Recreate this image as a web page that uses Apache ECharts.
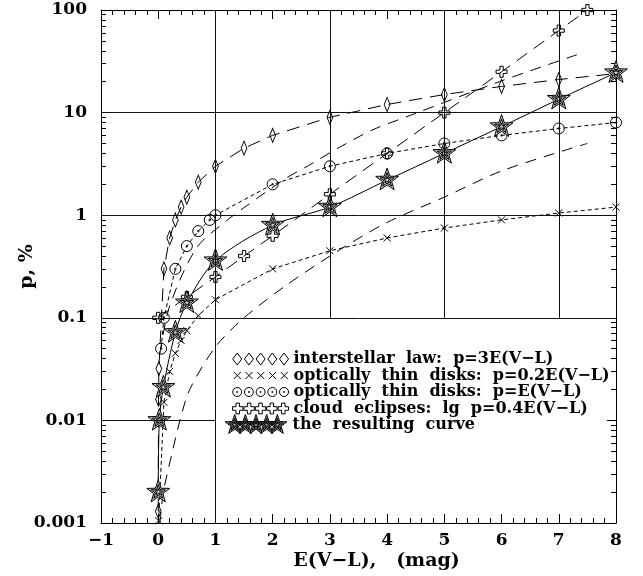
<!DOCTYPE html>
<html><head><meta charset="utf-8">
<script src="https://cdn.jsdelivr.net/npm/echarts@6/dist/echarts.min.js"></script>
<style>html,body{margin:0;padding:0;background:#fff}#c{width:643px;height:576px}</style>
</head><body><div id="c"></div>
<script>
// ---- data ----
const xTicks = [-1, 0, 1, 2, 3, 4, 5, 6, 7, 8];
const yTicks = [0.001, 0.01, 0.1, 1, 10, 100];

const interstellarE = [0.0004, 0.005, 0.011, 0.1, 0.2, 0.3, 0.4, 0.5, 0.7, 1, 1.5, 2, 3, 4, 5, 6, 7, 8];
const interstellarP = [0.0013, 0.016, 0.032, 0.3, 0.6, 0.9, 1.2, 1.5, 2.1, 3, 4.5, 6, 9, 12, 15, 18, 21, 24];

const thinLowE = [0.007, 0.1, 0.2, 0.3, 0.4, 0.5, 0.7, 1, 2, 3, 4, 5, 6, 7, 8];
const thinLowP = [0.00105, 0.015, 0.03, 0.045, 0.06, 0.075, 0.105, 0.15, 0.3, 0.45, 0.6, 0.75, 0.9, 1.05, 1.2];

const thinE = [0.05, 0.1, 0.3, 0.5, 0.7, 0.9, 1, 2, 3, 4, 5, 6, 7, 8];
const thinP = [0.05, 0.1, 0.3, 0.5, 0.7, 0.9, 1, 2, 3, 4, 5, 6, 7, 8];

const cloudE = [0, 0.5, 1, 1.5, 2, 3, 4, 5, 6, 7, 7.5];
const cloudP = [0.1, 0.16, 0.25, 0.4, 0.63, 1.6, 4, 10, 25, 63, 100];

const resultE = [0, 0.02, 0.09, 0.3, 0.5, 1, 2, 3, 4, 5, 6, 7, 8];
const resultP = [0.002, 0.01, 0.021, 0.072, 0.14, 0.36, 0.8, 1.2, 2.2, 4, 7.3, 13.5, 24.5];

const upperE = [0.03, 0.2, 0.67, 1.19, 1.54, 2.24, 2.65, 3.17, 3.75, 4.45, 5.96, 7.4];
const upperP = [0.045, 0.13, 0.48, 0.88, 1.23, 2.3, 3.1, 4.6, 6.8, 9.6, 20, 38];

const lowerE = [0.03, 0.09, 0.23, 0.38, 0.55, 1, 1.5, 2.25, 3.2, 4, 5, 6, 7.5];
const lowerP = [0.001, 0.002, 0.0045, 0.01, 0.02, 0.052, 0.1, 0.21, 0.47, 0.85, 1.5, 2.7, 5];

const legendNames = [
  'interstellar  law:  p=3E(V\u2212L)',
  'optically  thin  disks:  p=0.2E(V\u2212L)',
  'optically  thin  disks:  p=E(V\u2212L)',
  'cloud  eclipses:  lg  p=0.4E(V\u2212L)',
  'the  resulting  curve'
];

// grid lines (partial, as in the original)
const vGridX = [1, 3, 5, 7];
const vGridLow = [0.001, 0.1, 0.1, 0.1];
const hGridY = [0.01, 0.1, 1, 10];
const hGridRight = [1, 8, 8, 8];

// ---- helpers ----
const zip = (a, b) => a.map((v, i) => [v, b[i]]);
const f = (n) => n.toFixed(2);
function starPoly(cx, cy, R) {
  let s = '';
  for (let k = 0; k < 10; k++) {
    const r = k % 2 === 0 ? R : R * 0.4;
    const a = -Math.PI / 2 + k * Math.PI / 5;
    s += (k === 0 ? 'M' : 'L') + f(cx + r * Math.cos(a)) + ' ' + f(cy + r * Math.sin(a)) + ' ';
  }
  return s + 'Z ';
}
function starShape(cx, cy, R) {
  return starPoly(cx, cy, R) + starPoly(cx, cy, R * 0.62) + starPoly(cx, cy, R * 0.3);
}
const symStar = 'path://M0 0 M24 24 ' + starShape(12, 12, 12);
const symDiamond = 'path://M4.5 0L9 7L4.5 14L0 7Z';
const symCross = 'path://M0 0L10 10M10 0L0 10';
const symCircle = 'path://M0 5A5 5 0 1 1 10 5A5 5 0 1 1 0 5ZM4.3 5A0.7 0.7 0 1 1 5.7 5A0.7 0.7 0 1 1 4.3 5Z';
const symPlus = 'path://M3.5 0L6.5 0L6.5 3.5L10 3.5L10 6.5L6.5 6.5L6.5 10L3.5 10L3.5 6.5L0 6.5L0 3.5L3.5 3.5Z';

const LW = 56, LH = 12, STEP = 11.75;
function rowIcon(fn) {
  let s = 'path://M0 0 M' + LW + ' ' + LH + ' ';
  for (let i = 0; i < 5; i++) s += fn(4.75 + STEP * i, LH / 2);
  return s;
}
const iconDiamond = rowIcon((cx, cy) => `M${f(cx)} 0L${f(cx + 4.5)} ${cy}L${f(cx)} ${LH}L${f(cx - 4.5)} ${cy}Z `);
const iconCross = rowIcon((cx, cy) => `M${f(cx - 3.5)} ${cy - 3.5}L${f(cx + 3.5)} ${cy + 3.5}M${f(cx + 3.5)} ${cy - 3.5}L${f(cx - 3.5)} ${cy + 3.5} `);
const iconCircle = rowIcon((cx, cy) => `M${f(cx - 4.5)} ${cy}A4.5 4.5 0 1 1 ${f(cx + 4.5)} ${cy}A4.5 4.5 0 1 1 ${f(cx - 4.5)} ${cy}Z M${f(cx - 0.6)} ${cy}A0.6 0.6 0 1 1 ${f(cx + 0.6)} ${cy}A0.6 0.6 0 1 1 ${f(cx - 0.6)} ${cy}Z `);
const iconPlus = rowIcon((cx, cy) => {
  const a = 1.8, b = 5.4;
  const pts = [[-a, -b], [a, -b], [a, -a], [b, -a], [b, a], [a, a], [a, b], [-a, b], [-a, a], [-b, a], [-b, -a], [-a, -a]];
  return pts.map((p, i) => (i ? 'L' : 'M') + f(cx + p[0]) + ' ' + f(cy + p[1])).join('') + 'Z ';
});
let iconStars = 'path://M0 0 M68 22 ';
for (let i = 0; i < 5; i++) iconStars += starShape(11 + 11.5 * i, 11, 11);

const FONT = 'DejaVu Serif';
const lbl = { fontFamily: FONT, fontWeight: 'bold', fontSize: 17, color: '#000' };
const black = { color: '#000', width: 1 };
const hollow = { color: 'rgba(0,0,0,0)', borderColor: '#000', borderWidth: 1 };

const minorY = [];
for (let d = 0; d < yTicks.length - 1; d++) for (let k = 2; k <= 9; k++) minorY.push(+(yTicks[d] * k).toPrecision(3));

function xAxisDef(pos) {
  return {
    type: 'value', position: pos, min: -1, max: 8, interval: 1,
    axisLine: { show: true, onZero: false, lineStyle: black },
    axisTick: { show: true, inside: true, length: 9, lineStyle: black },
    minorTick: { show: true, splitNumber: 5, length: 5, lineStyle: black },
    splitLine: { show: false }, minorSplitLine: { show: false },
    axisLabel: pos === 'bottom' ? Object.assign({ margin: 9, formatter: v => v < 0 ? '\u2212' + (-v) : String(v) }, lbl) : { show: false },
    name: pos === 'bottom' ? 'E(V\u2212L),   (mag)' : '',
    nameLocation: 'middle', nameGap: 29, nameMoveOverlap: false,
    nameTextStyle: { fontFamily: FONT, fontWeight: 'bold', fontSize: 19, color: '#000', padding: [0, 0, 0, 36] }
  };
}
function yAxisDef(pos, major, withName) {
  return {
    type: 'log', logBase: 10, position: pos, min: 0.001, max: 100,
    axisLine: { show: major, onZero: false, lineStyle: black },
    axisTick: { show: true, inside: true, length: major ? 9 : 5, lineStyle: black, customValues: major ? yTicks : minorY },
    minorTick: { show: false },
    splitLine: { show: false }, minorSplitLine: { show: false },
    axisLabel: (major && withName) ? Object.assign({ margin: 14, customValues: yTicks, formatter: v => String(+(+v).toPrecision(3)) }, lbl) : { show: false },
    name: withName ? 'p, %' : '',
    nameLocation: 'middle', nameRotate: 90, nameGap: 64, nameMoveOverlap: false,
    nameTextStyle: { fontFamily: FONT, fontWeight: 'bold', fontSize: 19, color: '#000' }
  };
}

const gridSegs = [];
vGridX.forEach((x, i) => gridSegs.push([{ coord: [x, vGridLow[i]] }, { coord: [x, 100] }]));
hGridY.forEach((y, i) => gridSegs.push([{ coord: [-1, y] }, { coord: [hGridRight[i], y] }]));

function lineSeries(name, xs, ys, symbol, size, dash, extra) {
  return Object.assign({
    name, type: 'line', data: zip(xs, ys), symbol, symbolSize: size, symbolKeepAspect: true,
    showAllSymbol: true, itemStyle: hollow,
    lineStyle: { color: '#000', width: 1, type: dash },
    emphasis: { disabled: true }, silent: true, z: 3
  }, extra || {});
}

const legText = { fontFamily: FONT, fontWeight: 'bold', fontSize: 16, lineHeight: 16, color: '#000' };

const chart = echarts.init(document.getElementById('c'), null, { renderer: 'canvas' });
chart.setOption({
  animation: false,
  backgroundColor: '#fff',
  grid: { left: 101, right: 27, top: 10, bottom: 53, containLabel: false },
  xAxis: [xAxisDef('bottom'), xAxisDef('top')],
  yAxis: [yAxisDef('left', true, true), yAxisDef('left', false, false), yAxisDef('right', true, false), yAxisDef('right', false, false)],
  legend: [{
    left: 232, top: 351, orient: 'vertical', padding: 0, itemWidth: LW, itemHeight: LH, itemGap: 0.5,
    selectedMode: false, symbolKeepAspect: false,
    textStyle: legText,
    data: [
      { name: legendNames[0], icon: iconDiamond, itemStyle: hollow },
      { name: legendNames[1], icon: iconCross, itemStyle: hollow },
      { name: legendNames[2], icon: iconCircle, itemStyle: hollow },
      { name: legendNames[3], icon: iconPlus, itemStyle: hollow }
    ]
  }, {
    left: 224, top: 414, orient: 'vertical', padding: 0, itemWidth: 63, itemHeight: 21,
    selectedMode: false, symbolKeepAspect: false,
    textStyle: legText,
    data: [{ name: legendNames[4], icon: iconStars, itemStyle: { color: '#9a9a9a', borderColor: '#000', borderWidth: 1 } }]
  }],
  series: [
    { name: 'grid', type: 'line', data: [], silent: true, z: 1,
      markLine: { silent: true, symbol: 'none', label: { show: false }, emphasis: { disabled: true },
        lineStyle: { color: '#111', width: 1, type: 'solid' }, data: gridSegs } },
    lineSeries('lower', lowerE, lowerP, 'none', 0, [11, 8], { smooth: 0.3 }),
    lineSeries('upper', upperE, upperP, 'none', 0, [11, 8], { smooth: 0.3 }),
    lineSeries(legendNames[1], thinLowE, thinLowP, symCross, 7, [4, 3]),
    lineSeries(legendNames[2], thinE, thinP, symCircle, 11, [4, 3]),
    lineSeries(legendNames[3], cloudE, cloudP, symPlus, 11, [13, 8]),
    lineSeries(legendNames[0], interstellarE, interstellarP, symDiamond, [9, 14], [13, 8]),
    lineSeries(legendNames[4], resultE, resultP, symStar, 24, 'solid',
      { smooth: 0.3, itemStyle: { color: '#cfcfcf', borderColor: '#000', borderWidth: 1 }, z: 4 })
  ]
});
</script>
</body></html>
